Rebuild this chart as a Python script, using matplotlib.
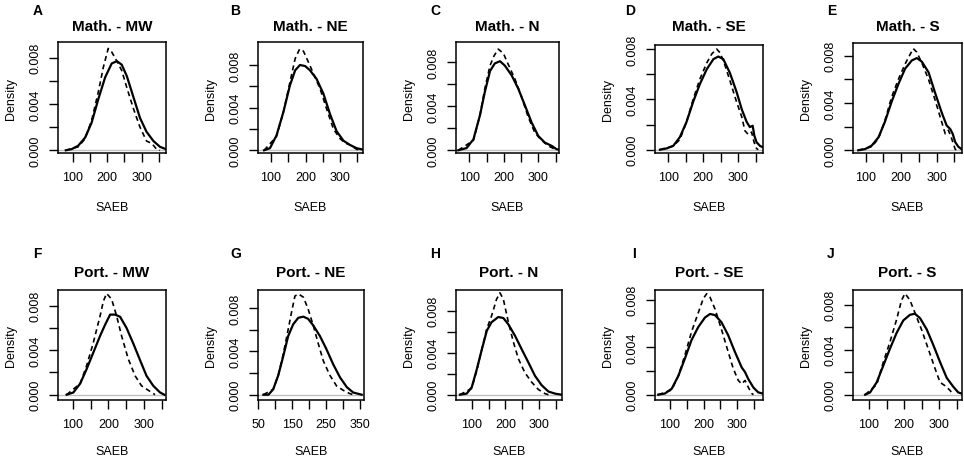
import matplotlib
matplotlib.use("Agg")
import matplotlib.pyplot as plt

plt.rcParams['font.family'] = ['Liberation Sans', 'DejaVu Sans']

# ---------------- data ----------------
letters = ["A", "B", "C", "D", "E", "F", "G", "H", "I", "J"]
titles = ["Math. - MW", "Math. - NE", "Math. - N", "Math. - SE", "Math. - S",
          "Port. - MW", "Port. - NE", "Port. - N", "Port. - SE", "Port. - S"]
xlabel = "SAEB"
ylabel = "Density"
yticks = [0.000, 0.002, 0.004, 0.006, 0.008]
ytick_labels = ["0.000", "", "0.004", "", "0.008"]
xticks_std = [100, 150, 200, 250, 300, 350]
xtick_labels_std = ["100", "", "200", "", "300", ""]
xticks_g = [50, 100, 150, 200, 250, 300, 350]
xtick_labels_g = ["50", "", "150", "", "250", "", "350"]

# density curves (SAEB, density): solid and dashed per panel
A_solid = [(80, 0), (97, 0.0001), (116, 0.0004), (136, 0.0011), (155, 0.0024), (174, 0.0044),
           (194, 0.0063), (213, 0.0075), (228, 0.0077), (242, 0.0074), (257, 0.0064),
           (276, 0.0046), (295, 0.0028), (314, 0.0016), (334, 0.0008), (353, 0.0003), (370, 0.0001)]
A_dash = [(80, 0), (116, 0.0003), (136, 0.0010), (155, 0.0026), (174, 0.0050), (189, 0.0072),
          (203, 0.0088), (213, 0.0085), (228, 0.0077), (242, 0.0069), (257, 0.0054),
          (276, 0.0036), (295, 0.0020), (314, 0.0008), (329, 0.0006), (343, 0.0001), (353, 0)]

B_solid = [(80, 0), (97, 0.0002), (116, 0.0014), (136, 0.0036), (155, 0.0061), (170, 0.0075),
           (184, 0.0080), (199, 0.0079), (213, 0.0075), (232, 0.0067), (252, 0.0053),
           (271, 0.0034), (290, 0.0018), (310, 0.0009), (329, 0.0005), (348, 0.0002), (367, 0.00006)]
B_dash = [(80, 0), (116, 0.0013), (136, 0.0036), (155, 0.0064), (170, 0.0086), (183, 0.0095),
          (194, 0.0093), (208, 0.0083), (223, 0.0072), (242, 0.0058), (261, 0.0039),
          (281, 0.0020), (300, 0.0011), (314, 0.0007), (329, 0.0005), (348, 0.0001), (362, 0)]

C_solid = [(68, 0), (92, 0.0002), (112, 0.0010), (131, 0.0032), (145, 0.0053), (160, 0.0072),
           (174, 0.0079), (189, 0.0081), (203, 0.0077), (223, 0.0068), (242, 0.0056),
           (261, 0.0041), (281, 0.0025), (300, 0.0013), (319, 0.0007), (339, 0.0004),
           (353, 0.0001), (361, 0.00005)]
C_dash = [(68, 0), (112, 0.0009), (131, 0.0032), (145, 0.0056), (160, 0.0077), (172, 0.0086),
          (184, 0.0092), (199, 0.0088), (213, 0.0078), (232, 0.0065), (252, 0.0048),
          (271, 0.0030), (290, 0.0016), (310, 0.0009), (329, 0.0004), (348, 0.0001)]

D_solid = [(76, 0), (95, 0.0001), (114, 0.0003), (133, 0.0010), (152, 0.0022), (171, 0.0038),
           (190, 0.0052), (210, 0.0064), (229, 0.0072), (243, 0.0074), (257, 0.0072),
           (276, 0.0061), (295, 0.0046), (310, 0.0032), (324, 0.0022), (333, 0.0018),
           (341, 0.0019), (346, 0.0011), (352, 0.0006), (362, 0.0003), (370, 0.0002)]
D_dash = [(76, 0), (114, 0.0003), (133, 0.0008), (152, 0.0022), (171, 0.0040), (190, 0.0056),
          (210, 0.0069), (224, 0.0076), (238, 0.0080), (248, 0.0077), (262, 0.0067),
          (276, 0.0055), (295, 0.0038), (310, 0.0026), (319, 0.0015), (329, 0.0012),
          (338, 0.0014), (345, 0.0006), (352, 0.0001), (357, 0)]

E_solid = [(79, 0), (98, 0.0001), (117, 0.0004), (136, 0.0011), (154, 0.0024), (173, 0.0041),
           (192, 0.0056), (211, 0.0069), (230, 0.0076), (244, 0.0078), (258, 0.0075),
           (277, 0.0066), (295, 0.0049), (314, 0.0032), (328, 0.0021), (338, 0.0018),
           (345, 0.0014), (352, 0.0007), (361, 0.0003), (370, 0.0001)]
E_dash = [(79, 0), (117, 0.0003), (136, 0.0010), (154, 0.0025), (173, 0.0045), (192, 0.0060),
          (211, 0.0073), (225, 0.0081), (234, 0.0086), (244, 0.0083), (258, 0.0074),
          (277, 0.0060), (295, 0.0043), (314, 0.0024), (324, 0.0014), (333, 0.0017),
          (342, 0.0010), (352, 0.0001), (356, 0)]

F_solid = [(83, 0), (102, 0.0002), (121, 0.0010), (139, 0.0023), (158, 0.0038), (177, 0.0053),
           (191, 0.0063), (205, 0.0072), (219, 0.0072), (233, 0.0070), (251, 0.0060),
           (270, 0.0046), (289, 0.0031), (307, 0.0017), (326, 0.0008), (345, 0.0002), (357, 0)]
F_dash = [(83, 0), (121, 0.0010), (139, 0.0026), (158, 0.0047), (177, 0.0071), (186, 0.0084),
          (195, 0.0091), (209, 0.0086), (223, 0.0071), (237, 0.0053), (256, 0.0032),
          (275, 0.0017), (293, 0.0008), (312, 0.0004), (331, 0)]

G_solid = [(65, 0), (80, 0), (94, 0.0005), (109, 0.0018), (124, 0.0036), (138, 0.0054),
           (153, 0.0065), (168, 0.0071), (183, 0.0072), (197, 0.0070), (212, 0.0064),
           (232, 0.0054), (251, 0.0042), (271, 0.0028), (291, 0.0016), (311, 0.0007),
           (330, 0.0002), (355, 0)]
G_dash = [(65, 0), (94, 0.0005), (109, 0.0018), (124, 0.0038), (138, 0.0060), (148, 0.0076),
          (158, 0.0091), (168, 0.0093), (183, 0.0090), (197, 0.0079), (212, 0.0064),
          (227, 0.0047), (242, 0.0031), (261, 0.0018), (281, 0.0008), (301, 0.0004),
          (320, 0.0001), (330, 0)]

H_solid = [(65, 0), (85, 0.0001), (100, 0.0007), (115, 0.0024), (130, 0.0043), (145, 0.0061),
           (159, 0.0069), (179, 0.0074), (194, 0.0073), (209, 0.0067), (229, 0.0056),
           (249, 0.0043), (268, 0.0031), (288, 0.0018), (308, 0.0009), (328, 0.0003),
           (348, 0.0001), (367, 0)]
H_dash = [(65, 0), (100, 0.0006), (115, 0.0023), (130, 0.0043), (145, 0.0063), (159, 0.0075),
          (174, 0.0091), (184, 0.0097), (194, 0.0091), (209, 0.0069), (224, 0.0050),
          (239, 0.0034), (258, 0.0021), (278, 0.0012), (298, 0.0005), (318, 0.0001), (328, 0)]

I_solid = [(65, 0), (85, 0.0001), (105, 0.0005), (125, 0.0016), (145, 0.0031), (164, 0.0046),
           (184, 0.0057), (204, 0.0065), (219, 0.0068), (234, 0.0067), (253, 0.0061),
           (273, 0.0050), (293, 0.0036), (313, 0.0023), (323, 0.0019), (333, 0.0013),
           (348, 0.0006), (362, 0.0002), (375, 0.0001)]
I_dash = [(65, 0), (105, 0.0004), (125, 0.0016), (145, 0.0034), (164, 0.0053), (184, 0.0069),
          (199, 0.0081), (209, 0.0085), (219, 0.0082), (234, 0.0072), (253, 0.0055),
          (273, 0.0036), (288, 0.0022), (303, 0.0012), (313, 0.0009), (323, 0.0012),
          (333, 0.0006), (343, 0.0001), (348, 0)]

J_solid = [(89, 0), (103, 0.0002), (122, 0.0011), (141, 0.0026), (160, 0.0041), (179, 0.0055),
           (198, 0.0066), (217, 0.0071), (231, 0.0072), (246, 0.0068), (265, 0.0058),
           (284, 0.0044), (303, 0.0029), (322, 0.0015), (341, 0.0007), (355, 0.0002), (365, 0.0001)]
J_dash = [(89, 0), (122, 0.0009), (141, 0.0029), (160, 0.0047), (179, 0.0067), (193, 0.0084),
          (203, 0.0090), (217, 0.0084), (231, 0.0073), (250, 0.0058), (269, 0.0041),
          (289, 0.0023), (303, 0.0011), (317, 0.0008), (331, 0.0004), (341, 0)]

solids = [A_solid, B_solid, C_solid, D_solid, E_solid, F_solid, G_solid, H_solid, I_solid, J_solid]
dashes = [A_dash, B_dash, C_dash, D_dash, E_dash, F_dash, G_dash, H_dash, I_dash, J_dash]

# ---------------- layout (pixel calibration) ----------------
W, H = 964, 460
# (xa_val, xa_px, xb_val, xb_px, y0_px, y8_px, left, right, top, bottom)
calib = [
    (100, 72.7, 300, 141.7, 151.3, 58.7, 58, 166, 43, 154),
    (100, 271.0, 300, 340.0, 151.3, 66.0, 258, 363, 43, 154),
    (100, 469.3, 300, 538.3, 151.3, 63.3, 456, 559, 43, 154),
    (100, 668.3, 300, 738.3, 150.7, 50.0, 655, 763, 46, 154),
    (100, 865.7, 300, 936.7, 151.3, 56.7, 853, 962, 44, 154),
    (100, 72.7, 300, 144.0, 395.7, 306.7, 58, 166, 291, 401),
    (50, 258.3, 350, 360.0, 395.7, 309.0, 258, 364, 291, 401),
    (100, 471.7, 300, 539.0, 395.7, 311.7, 456, 562, 291, 401),
    (100, 670.0, 300, 737.3, 395.7, 300.7, 655, 763, 291, 401),
    (100, 869.0, 300, 939.0, 395.7, 305.7, 853, 962, 291, 401),
]
letter_x = [33, 230, 430, 625, 827, 33, 230, 430, 632, 827]
letter_base = [15, 15, 15, 15, 15, 258, 258, 258, 258, 258]
title_base = [31, 31, 31, 31, 31, 277, 277, 277, 277, 277]
xlab_y = [208, 208, 208, 208, 208, 452, 452, 452, 452, 452]
ylab_x = 47  # px left of box

fig = plt.figure(figsize=(W / 100, H / 100), dpi=100)

for i in range(10):
    xa, xapx, xb, xbpx, y0px, y8px, L, R, T, B = calib[i]
    sx = (xbpx - xapx) / (xb - xa)
    x_lo = xa - (xapx - L) / sx
    x_hi = xb + (R - xbpx) / sx
    sy = (y0px - y8px) / 0.008
    y_lo = -(B - y0px) / sy
    y_hi = (y0px - T) / sy

    ax = fig.add_axes([L / W, 1 - B / H, (R - L) / W, (B - T) / H])
    ax.axhline(0, color='#c0c0c0', lw=1.0, zorder=1)
    sx_, sy_ = zip(*solids[i])
    dx_, dy_ = zip(*dashes[i])
    ax.plot(sx_, sy_, color='black', lw=1.6, solid_joinstyle='round', zorder=3)
    ax.plot(dx_, dy_, color='black', lw=1.2, linestyle=(0, (3.0, 2.2)), zorder=2)
    ax.set_xlim(x_lo, x_hi)
    ax.set_ylim(y_lo, y_hi)

    if i == 6:
        ax.set_xticks(xticks_g)
        ax.set_xticklabels(xtick_labels_g)
    else:
        ax.set_xticks(xticks_std)
        ax.set_xticklabels(xtick_labels_std)
    ax.set_yticks(yticks)
    ax.set_yticklabels(ytick_labels, rotation=90, va='center')

    ax.tick_params(axis='x', direction='out', length=6.5, width=1.0, pad=6.5,
                   labelsize=9, colors='black')
    ax.tick_params(axis='y', direction='out', length=6.5, width=1.0, pad=5.5,
                   labelsize=9, colors='black')
    for sp in ax.spines.values():
        sp.set_linewidth(1.1)

    cx = (L + R) / 2
    fig.text(letter_x[i] / W, 1 - letter_base[i] / H, letters[i], fontsize=10,
             fontweight='bold', ha='left', va='baseline')
    fig.text(cx / W, 1 - title_base[i] / H, titles[i], fontsize=11,
             fontweight='bold', ha='center', va='baseline')
    fig.text(cx / W, 1 - xlab_y[i] / H, xlabel, fontsize=9, ha='center', va='center')
    fig.text((L - ylab_x) / W, 1 - ((T + B) / 2) / H, ylabel, fontsize=9,
             rotation=90, ha='center', va='center')

fig.savefig("out.png", dpi=100)
